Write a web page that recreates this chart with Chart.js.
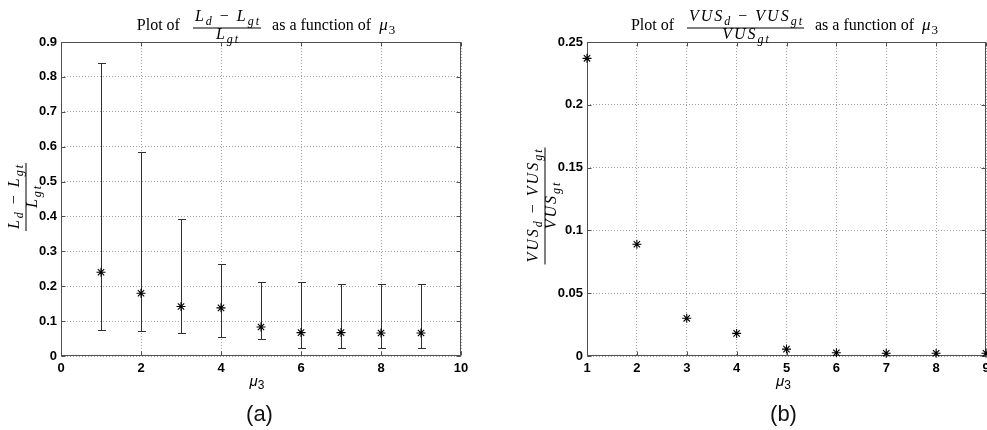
<!DOCTYPE html>
<html>
<head>
<meta charset="utf-8">
<script src="https://cdn.jsdelivr.net/npm/chart.js@4.4.1/dist/chart.umd.min.js"></script>
<style>
  html, body { margin: 0; padding: 0; background: #fff; }
  #wrap { position: relative; width: 987px; height: 430px; overflow: hidden; }
  .panel { position: absolute; top: 0; width: 490px; height: 430px; }
  #panelA { left: 0; }
  #panelB { left: 497px; }
</style>
</head>
<body>
<div id="wrap">
  <div class="panel" id="panelA"><canvas id="chartA" width="490" height="430"></canvas></div>
  <div class="panel" id="panelB"><canvas id="chartB" width="490" height="430"></canvas></div>
</div>
<script>
// (a) relative length error against mu3: mean with min/max spread
const muA = [1, 2, 3, 4, 5, 6, 7, 8, 9];
const meanA = [0.240, 0.180, 0.142, 0.138, 0.083, 0.067, 0.067, 0.066, 0.066];
const lowA = [0.074, 0.072, 0.066, 0.054, 0.049, 0.024, 0.024, 0.024, 0.024];
const highA = [0.840, 0.586, 0.392, 0.265, 0.211, 0.211, 0.205, 0.205, 0.205];
const xTicksA = [0, 2, 4, 6, 8, 10];
const yTicksA = [0, 0.1, 0.2, 0.3, 0.4, 0.5, 0.6, 0.7, 0.8, 0.9];
const yTickLabelsA = ['0', '0.1', '0.2', '0.3', '0.4', '0.5', '0.6', '0.7', '0.8', '0.9'];

// (b) relative VUS error against mu3
const muB = [1, 2, 3, 4, 5, 6, 7, 8, 9];
const relVUS = [0.237, 0.089, 0.030, 0.018, 0.0055, 0.0026, 0.0022, 0.0022, 0.0022];
const xTicksB = [1, 2, 3, 4, 5, 6, 7, 8, 9];
const yTicksB = [0, 0.05, 0.1, 0.15, 0.2, 0.25];
const yTickLabelsB = ['0', '0.05', '0.1', '0.15', '0.2', '0.25'];

const SERIF = '"Liberation Serif", "Times New Roman", serif';
const SANS = '"Liberation Sans", Arial, Helvetica, sans-serif';
const MATH_SIZE = 16;
const MATH_GAP = 2;

// math text is a list of [text, kind] runs: i = italic, r = roman, si/sr = subscripts
function mathFont(kind, size) {
    const sub = kind === 'si' || kind === 'sr';
    const italic = kind === 'i' || kind === 'si';
    const px = sub ? Math.round(size * 0.75) : size;
    return (italic ? 'italic ' : '') + px + 'px ' + SERIF;
}

function runsWidth(ctx, runs, size, gap) {
    let w = 0;
    runs.forEach(([txt, kind]) => {
        ctx.font = mathFont(kind, size);
        for (const ch of txt) w += ctx.measureText(ch).width + gap;
    });
    return w - gap;
}

function drawRuns(ctx, runs, x, y, size, gap) {
    runs.forEach(([txt, kind]) => {
        ctx.font = mathFont(kind, size);
        const dy = (kind === 'si' || kind === 'sr') ? size * 0.24 : 0;
        for (const ch of txt) {
            ctx.fillText(ch, x, y + dy);
            x += ctx.measureText(ch).width + gap;
        }
    });
    return x;
}

function fracWidth(ctx, num, den) {
    return Math.max(runsWidth(ctx, num, MATH_SIZE, MATH_GAP), runsWidth(ctx, den, MATH_SIZE, MATH_GAP)) + 4;
}

function drawFrac(ctx, num, den, cx, barY) {
    const nw = runsWidth(ctx, num, MATH_SIZE, MATH_GAP);
    const dw = runsWidth(ctx, den, MATH_SIZE, MATH_GAP);
    const w = Math.max(nw, dw) + 4;
    ctx.fillRect(cx - w / 2, barY - 0.5, w, 1);
    drawRuns(ctx, num, cx - nw / 2, barY - 7, MATH_SIZE, MATH_GAP);
    drawRuns(ctx, den, cx - dw / 2, barY + 11, MATH_SIZE, MATH_GAP);
}

// boxed axes with inward ticks on all four sides
const framePlugin = {
    id: 'frame',
    beforeDatasetsDraw(chart) {
        const { ctx, chartArea: a, scales } = chart;
        const L = Math.round(a.left) + 0.5, R = Math.round(a.right) - 0.5;
        const T = Math.round(a.top) + 0.5, B = Math.round(a.bottom) - 0.5;
        ctx.save();
        ctx.strokeStyle = '#505050';
        ctx.lineWidth = 1;
        ctx.strokeRect(L, T, R - L, B - T);
        ctx.beginPath();
        scales.x.ticks.forEach(t => {
            const px = Math.round(scales.x.getPixelForValue(t.value)) + 0.5;
            ctx.moveTo(px, B); ctx.lineTo(px, B - 4);
            ctx.moveTo(px, T); ctx.lineTo(px, T + 4);
        });
        scales.y.ticks.forEach(t => {
            const py = Math.round(scales.y.getPixelForValue(t.value)) + 0.5;
            ctx.moveTo(L, py); ctx.lineTo(L + 4, py);
            ctx.moveTo(R, py); ctx.lineTo(R - 4, py);
        });
        ctx.stroke();
        ctx.restore();
    }
};

// vertical min/max bars with short caps
function errorBarPlugin(xs, lows, highs) {
    return {
        id: 'errorBars',
        beforeDatasetsDraw(chart) {
            const { ctx, scales: { x, y } } = chart;
            ctx.save();
            ctx.strokeStyle = '#303030';
            ctx.lineWidth = 1;
            ctx.beginPath();
            xs.forEach((v, i) => {
                const px = Math.round(x.getPixelForValue(v)) + 0.5;
                const top = Math.round(y.getPixelForValue(highs[i])) + 0.5;
                const bot = Math.round(y.getPixelForValue(lows[i])) + 0.5;
                ctx.moveTo(px, top); ctx.lineTo(px, bot);
                ctx.moveTo(px - 3.5, top); ctx.lineTo(px + 4.5, top);
                ctx.moveTo(px - 3.5, bot); ctx.lineTo(px + 4.5, bot);
            });
            ctx.stroke();
            ctx.restore();
        }
    };
}

// title, rotated y label, mu3 x label and panel caption
function textPlugin(cfg) {
    return {
        id: 'panelText',
        afterDraw(chart) {
            const { ctx, chartArea: a } = chart;
            const cx = (a.left + a.right) / 2;
            ctx.save();
            ctx.fillStyle = '#000';
            ctx.textBaseline = 'alphabetic';
            ctx.textAlign = 'left';

            // title: "Plot of <frac> as a function of mu3"
            const base = 30;
            const titleFont = '16px ' + SERIF;
            ctx.font = titleFont;
            const w1 = ctx.measureText('Plot of').width;
            const w2 = ctx.measureText('as a function of').width;
            const fw = fracWidth(ctx, cfg.num, cfg.den);
            const muRuns = [['\u03bc', 'i'], ['3', 'sr']];
            const mw = runsWidth(ctx, muRuns, 17, 1);
            const total = w1 + 13 + fw + 11 + w2 + 8 + mw;
            let x = cx + cfg.titleDx - total / 2;
            ctx.font = titleFont;
            ctx.fillText('Plot of', x, base);
            x += w1 + 13;
            drawFrac(ctx, cfg.num, cfg.den, x + fw / 2, base - 2);
            x += fw + 11;
            ctx.font = titleFont;
            ctx.fillText('as a function of', x, base);
            x += w2 + 8;
            drawRuns(ctx, muRuns, x, base, 17, 1);

            // y label, rotated fraction
            ctx.save();
            ctx.translate(cfg.yLabelX, cfg.yLabelY);
            ctx.rotate(-Math.PI / 2);
            drawFrac(ctx, cfg.num, cfg.den, 0, 0);
            ctx.restore();

            // x label
            ctx.font = 'italic 15px ' + SANS;
            const muW = ctx.measureText('\u03bc').width;
            ctx.font = '12px ' + SANS;
            const threeW = ctx.measureText('3').width;
            const lx = cx + cfg.xLabelDx - (muW + threeW) / 2;
            ctx.font = 'italic 15px ' + SANS;
            ctx.fillText('\u03bc', lx, 386);
            ctx.font = '12px ' + SANS;
            ctx.fillText('3', lx + muW, 389);

            // caption
            ctx.font = '22px ' + SANS;
            ctx.textAlign = 'center';
            ctx.fillStyle = '#111';
            ctx.fillText(cfg.caption, cx + cfg.captionDx, 421);
            ctx.restore();
        }
    };
}

function makeScales(xMin, xMax, xTicks, yMax, yTicks, yLabels, yWidth) {
    const gridOpts = { color: '#a0a0a0', lineWidth: 1, drawTicks: false };
    const tickFont = { family: SANS, size: 13, weight: 'bold' };
    return {
        x: {
            type: 'linear',
            min: xMin,
            max: xMax,
            afterBuildTicks: s => { s.ticks = xTicks.map(v => ({ value: v })); },
            afterFit: s => { s.height = 74; s.paddingLeft = 0; s.paddingRight = 0; },
            grid: gridOpts,
            border: { display: false, dash: [1, 2] },
            ticks: { color: '#000', font: tickFont, padding: 5, maxRotation: 0, autoSkip: false, callback: v => String(v) }
        },
        y: {
            type: 'linear',
            min: 0,
            max: yMax,
            afterBuildTicks: s => { s.ticks = yTicks.map(v => ({ value: v })); },
            afterFit: s => { s.width = yWidth; s.paddingTop = 0; s.paddingBottom = 0; },
            grid: gridOpts,
            border: { display: false, dash: [1, 2] },
            ticks: { color: '#000', font: tickFont, padding: 4, autoSkip: false, callback: v => yLabels[yTicks.indexOf(v)] }
        }
    };
}

function starDataset(xs, ys) {
    return {
        data: xs.map((v, i) => ({ x: v, y: ys[i] })),
        showLine: false,
        pointStyle: 'star',
        pointRadius: 4.5,
        pointBorderWidth: 1.1,
        pointBorderColor: '#000',
        pointBackgroundColor: '#000',
        clip: false
    };
}

const baseOptions = {
    responsive: false,
    animation: false,
    events: [],
    plugins: { legend: { display: false }, tooltip: { enabled: false } }
};

new Chart(document.getElementById('chartA'), {
    type: 'scatter',
    data: { datasets: [starDataset(muA, meanA)] },
    options: Object.assign({}, baseOptions, {
        layout: { autoPadding: false, padding: { top: 42, right: 29, bottom: 0, left: 0 } },
        scales: makeScales(0, 10, xTicksA, 0.9, yTicksA, yTickLabelsA, 61)
    }),
    plugins: [
        framePlugin,
        errorBarPlugin(muA, lowA, highA),
        textPlugin({
            num: [['L', 'i'], ['d', 'si'], [' \u2212 ', 'r'], ['L', 'i'], ['gt', 'si']],
            den: [['L', 'i'], ['gt', 'si']],
            titleDx: 5,
            yLabelX: 26,
            yLabelY: 197,
            xLabelDx: -4,
            caption: '(a)',
            captionDx: -1.5
        })
    ]
});

new Chart(document.getElementById('chartB'), {
    type: 'scatter',
    data: { datasets: [starDataset(muB, relVUS)] },
    options: Object.assign({}, baseOptions, {
        layout: { autoPadding: false, padding: { top: 42, right: 1, bottom: 0, left: 0 } },
        scales: makeScales(1, 9, xTicksB, 0.25, yTicksB, yTickLabelsB, 90)
    }),
    plugins: [
        framePlugin,
        textPlugin({
            num: [['VUS', 'i'], ['d', 'si'], [' \u2212 ', 'r'], ['VUS', 'i'], ['gt', 'si']],
            den: [['VUS', 'i'], ['gt', 'si']],
            titleDx: -2,
            yLabelX: 48,
            yLabelY: 206,
            xLabelDx: -3,
            caption: '(b)',
            captionDx: -3
        })
    ]
});
</script>
</body>
</html>
